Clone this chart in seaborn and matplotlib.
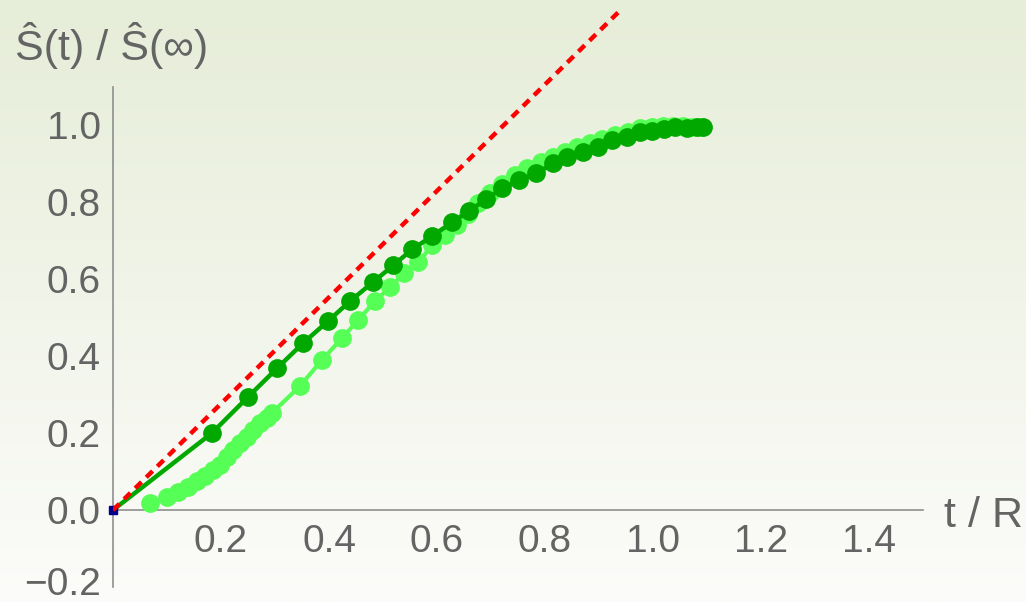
import numpy as np
import matplotlib
matplotlib.use("Agg")
import matplotlib.pyplot as plt
import matplotlib.transforms as mtransforms
import seaborn as sns

# dark green series (t/R, S(t)/S(inf))
dark_x = [0.0, 0.183, 0.250, 0.304, 0.352, 0.398, 0.439, 0.481, 0.519, 0.554, 0.591,
          0.628, 0.659, 0.691, 0.720, 0.752, 0.783, 0.815, 0.841, 0.870, 0.898,
          0.924, 0.952, 0.976, 0.998, 1.020, 1.041, 1.063, 1.081, 1.093]
dark_y = [0.0, 0.200, 0.294, 0.369, 0.434, 0.491, 0.543, 0.592, 0.636, 0.678, 0.712,
          0.748, 0.777, 0.808, 0.836, 0.857, 0.875, 0.901, 0.917, 0.930, 0.945,
          0.961, 0.969, 0.982, 0.985, 0.990, 0.995, 0.994, 0.995, 0.995]

# light green series
light_x = [0.069, 0.100, 0.120, 0.139, 0.155, 0.170, 0.185, 0.198, 0.211, 0.222,
           0.235, 0.248, 0.259, 0.272, 0.285, 0.294, 0.346, 0.387, 0.424, 0.454,
           0.485, 0.513, 0.539, 0.565, 0.591, 0.615, 0.637, 0.657, 0.676, 0.698,
           0.721, 0.744, 0.767, 0.792, 0.815, 0.837, 0.860, 0.883, 0.906, 0.930,
           0.954, 0.976, 0.998, 1.019, 1.037, 1.055, 1.072, 1.088]
light_y = [0.018, 0.034, 0.047, 0.060, 0.075, 0.088, 0.104, 0.117, 0.138, 0.156,
           0.174, 0.190, 0.208, 0.226, 0.239, 0.252, 0.322, 0.390, 0.447, 0.494,
           0.543, 0.579, 0.616, 0.644, 0.688, 0.716, 0.740, 0.770, 0.797, 0.823,
           0.848, 0.870, 0.890, 0.906, 0.919, 0.932, 0.944, 0.955, 0.964, 0.974,
           0.984, 0.992, 0.996, 0.998, 0.998, 0.998, 0.997, 0.997]

# red dotted reference line
red_x = [0.0, 0.94]
red_y = [0.0, 1.30]

x_major = [0.2, 0.4, 0.6, 0.8, 1.0, 1.2, 1.4]
y_major = [-0.2, 0.0, 0.2, 0.4, 0.6, 0.8, 1.0]

sns.set_style('white')
plt.rcParams['font.family'] = ['Liberation Sans', 'DejaVu Sans']

text_col = '#646464'
axis_col = '#8f8f8f'

fig = plt.figure(figsize=(10.26, 6.02), dpi=100)

# background gradient
bg = fig.add_axes([0, 0, 1, 1], zorder=-1)
top = np.array([230, 237, 216]) / 255
bot = np.array([252, 252, 250]) / 255
t = np.linspace(0, 1, 256)[:, None]
grad = top[None, :] * (1 - t) + bot[None, :] * t
bg.imshow(grad[:, None, :], aspect='auto', extent=[0, 1, 0, 1])
bg.axis('off')

ax = fig.add_axes([113 / 1026, 15 / 602, 810 / 1026, 587 / 602])
ax.set_facecolor('none')

sns.lineplot(x=light_x, y=light_y, ax=ax, color='#55FF55', linewidth=3,
             marker='o', markersize=13.5, markeredgewidth=0, estimator=None,
             sort=False, clip_on=False, zorder=3)
sns.lineplot(x=dark_x[1:], y=dark_y[1:], ax=ax, color='#00A800', linewidth=0,
             marker='o', markersize=13.5, markeredgewidth=0, estimator=None,
             sort=False, clip_on=False, zorder=4)
sns.lineplot(x=dark_x, y=dark_y, ax=ax, color='#00A800', linewidth=3.2,
             estimator=None, sort=False, clip_on=False, zorder=4)
ax.plot([0], [0], marker='s', markersize=6, color='#00008C', clip_on=False, zorder=5)
ax.plot(red_x, red_y, color='#FF0000', linewidth=3.2, linestyle=(0, (2.0, 1.5)),
        zorder=6)

ax.set_xlim(0, 1.5)
ax.set_ylim(-0.2, 1.1 + 87 / 385)

for s in ['top', 'right']:
    ax.spines[s].set_visible(False)
ax.spines['bottom'].set_position(('data', 0))
ax.spines['bottom'].set_bounds(0, 1.5)
ax.spines['left'].set_bounds(-0.2, 1.1)
for s in ['bottom', 'left']:
    ax.spines[s].set_color(axis_col)
    ax.spines[s].set_linewidth(1.2)

ax.set_xticks(x_major)
ax.set_xticklabels([f'{v:.1f}' for v in x_major])
ax.set_xticks([v for v in np.arange(0.05, 1.501, 0.05) if min(abs(v - m) for m in x_major) > 1e-6], minor=True)
ax.set_yticks(y_major)
ax.set_yticklabels([f'{v:.1f}'.replace('-', '\u2212') for v in y_major])
ax.set_yticks([v for v in np.arange(-0.2, 1.101, 0.05) if min(abs(v - m) for m in y_major) > 1e-6], minor=True)

ax.tick_params(which='both', direction='in', color=axis_col, width=1.1,
               labelsize=28, labelcolor=text_col)
ax.tick_params(which='major', length=8)
ax.tick_params(which='minor', length=5)
ax.tick_params(axis='x', which='major', pad=10)
ax.tick_params(axis='y', which='major', pad=9)

# nudge the bottom label up a little so it stays inside the picture
lab = ax.get_yticklabels()[0]
lab.set_transform(lab.get_transform() +
                  mtransforms.ScaledTranslation(0, 6 / 100, fig.dpi_scale_trans))

fig.text(15 / 1026, 1 - 60 / 602, 'Ŝ(t) / Ŝ(∞)', fontsize=31, color=text_col,
         ha='left', va='baseline')
fig.text(944 / 1026, 1 - 527 / 602, 't / R', fontsize=31, color=text_col,
         ha='left', va='baseline')

fig.savefig('out.png', dpi=100)
